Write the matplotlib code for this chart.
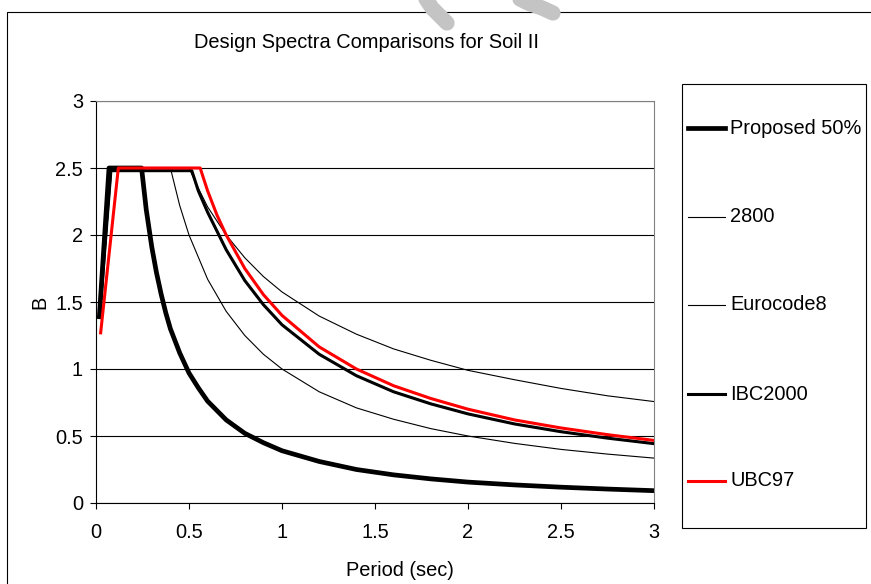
import matplotlib.pyplot as plt
from matplotlib.lines import Line2D
from matplotlib.patches import Rectangle

plt.rcParams['font.family'] = ['Liberation Sans', 'DejaVu Sans']

W, H = 871, 584
FS = 14.4

# spectra: period (sec) and B
t_prop = [0.018, 0.07, 0.245, 0.27, 0.3, 0.325, 0.35, 0.375, 0.4, 0.45, 0.5, 0.55, 0.6,
          0.7, 0.8, 0.9, 1.0, 1.2, 1.4, 1.6, 1.8, 2.0, 2.25, 2.5, 2.75, 3.0]
b_prop = [1.39, 2.50, 2.50, 2.19, 1.91, 1.72, 1.56, 1.42, 1.30, 1.12, 0.97, 0.86, 0.76,
          0.62, 0.52, 0.45, 0.39, 0.31, 0.25, 0.21, 0.18, 0.156, 0.135, 0.118, 0.104, 0.092]

t_2800 = [0.02, 0.085, 0.5, 0.55, 0.6, 0.7, 0.8, 0.9, 1.0, 1.2, 1.4, 1.6, 1.8,
          2.0, 2.25, 2.5, 2.75, 3.0]
b_2800 = [1.38, 2.50, 2.50, 2.35, 2.21, 2.00, 1.83, 1.69, 1.575, 1.395, 1.26, 1.15, 1.065,
          0.99, 0.92, 0.855, 0.80, 0.757]

t_ec8 = [0.02, 0.075, 0.4, 0.45, 0.5, 0.6, 0.7, 0.8, 0.9, 1.0, 1.2, 1.4, 1.6, 1.8,
         2.0, 2.25, 2.5, 2.75, 3.0]
b_ec8 = [1.40, 2.50, 2.50, 2.22, 2.00, 1.67, 1.43, 1.25, 1.11, 1.00, 0.83, 0.71, 0.625, 0.555,
         0.50, 0.445, 0.40, 0.365, 0.335]

t_ibc = [0.02, 0.08, 0.515, 0.55, 0.6, 0.65, 0.7, 0.8, 0.9, 1.0, 1.2, 1.4, 1.6, 1.8,
         2.0, 2.25, 2.5, 2.75, 3.0]
b_ibc = [1.40, 2.48, 2.48, 2.33, 2.17, 2.03, 1.89, 1.66, 1.48, 1.33, 1.11, 0.95, 0.83, 0.74,
         0.665, 0.59, 0.532, 0.484, 0.443]

t_ubc = [0.025, 0.12, 0.56, 0.6, 0.65, 0.7, 0.8, 0.9, 1.0, 1.2, 1.4, 1.6, 1.8,
         2.0, 2.25, 2.5, 2.75, 3.0]
b_ubc = [1.27, 2.50, 2.50, 2.33, 2.15, 2.00, 1.75, 1.555, 1.40, 1.165, 1.00, 0.875, 0.78,
         0.70, 0.62, 0.56, 0.51, 0.467]

series = [
    ('Proposed 50%', t_prop, b_prop, 'black', 3.4),
    ('2800', t_2800, b_2800, 'black', 0.8),
    ('Eurocode8', t_ec8, b_ec8, 'black', 0.8),
    ('IBC2000', t_ibc, b_ibc, 'black', 2.2),
    ('UBC97', t_ubc, b_ubc, 'red', 2.2),
]


def fx(x):
    return x / W


def fy(y):
    return 1 - y / H


fig = plt.figure(figsize=(W / 100, H / 100), dpi=100)

# grey brush strokes along the top edge
for xs, ys in [((424, 432, 440, 447), (-4, 8, 16, 23)),
               ((514, 528, 542, 553), (-4, 3, 8, 13))]:
    fig.add_artist(Line2D([fx(v) for v in xs], [fy(v) for v in ys], color='#c4c4c4',
                          lw=11, solid_capstyle='round', solid_joinstyle='round',
                          transform=fig.transFigure))

# chart frame
fig.add_artist(Rectangle((fx(7), fy(600)), fx(866), fy(12) - fy(600), fill=False,
                         edgecolor='black', lw=0.8, transform=fig.transFigure))

ax = fig.add_axes([fx(96), fy(503), fx(654) - fx(96), fy(101) - fy(503)])
for name, t, b, c, lw in series:
    ax.plot(t, b, color=c, lw=lw, solid_joinstyle='round', label=name)

ax.set_xlim(0, 3)
ax.set_ylim(0, 3)
ax.set_xticks([0, 0.5, 1, 1.5, 2, 2.5, 3])
ax.set_xticklabels(['0', '0.5', '1', '1.5', '2', '2.5', '3'])
ax.set_yticks([0, 0.5, 1, 1.5, 2, 2.5, 3])
ax.set_yticklabels(['0', '0.5', '1', '1.5', '2', '2.5', '3'])
ax.yaxis.grid(True, color='black', lw=0.8)
ax.set_axisbelow(True)
ax.tick_params(axis='both', direction='out', length=4.3, width=0.8, labelsize=FS)
ax.tick_params(axis='x', pad=10)
ax.tick_params(axis='y', pad=5)
for s in ['left', 'bottom']:
    ax.spines[s].set_color('black')
    ax.spines[s].set_linewidth(0.8)
for s in ['top', 'right']:
    ax.spines[s].set_color('#808080')
    ax.spines[s].set_linewidth(0.8)

fig.text(fx(367), fy(43), 'Design Spectra Comparisons for Soil II', fontsize=FS,
         ha='center', va='center')
fig.text(fx(400), fy(571), 'Period (sec)', fontsize=FS, ha='center', va='center')
fig.text(fx(40), fy(302), 'B', fontsize=FS, ha='center', va='center', rotation=90)

# legend box
fig.add_artist(Rectangle((fx(682), fy(528)), fx(866) - fx(682), fy(84) - fy(528),
                         fill=False, edgecolor='black', lw=0.8, transform=fig.transFigure))
rows = [128, 217, 305, 394, 481]
for (name, t, b, c, lw), y in zip(series, rows):
    fig.add_artist(Line2D([fx(688), fx(725)], [fy(y), fy(y)], color=c, lw=lw,
                          transform=fig.transFigure))
    fig.text(fx(730), fy(y), name, fontsize=FS, ha='left', va='center')

fig.savefig('out.png', dpi=100)
